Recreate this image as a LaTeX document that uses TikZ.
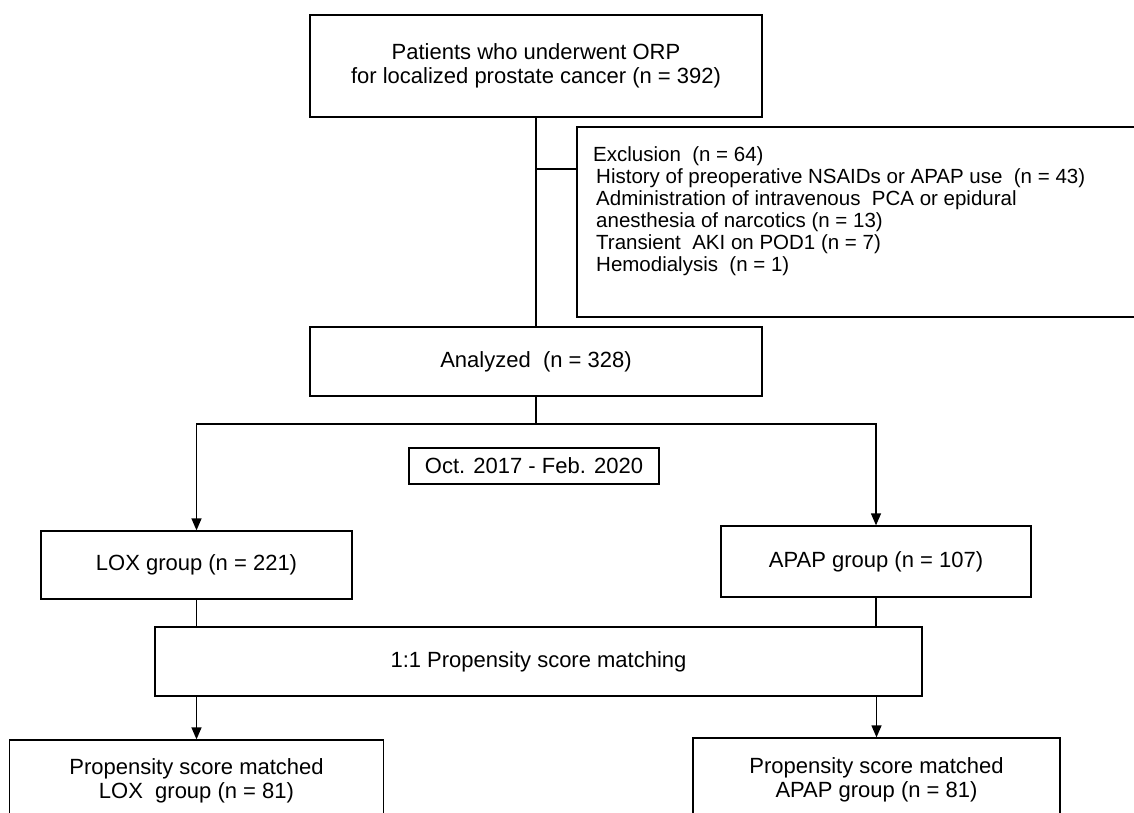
\documentclass[tikz,border=0pt]{standalone}
\usepackage{fontspec}
\setmainfont{Liberation Sans}
\usetikzlibrary{arrows.meta}

\begin{document}
\begin{tikzpicture}[x=1pt,y=-1pt,
  box/.style={draw=black, line width=1.3pt, rectangle, inner sep=0pt, align=center,
              font=\fontsize{22}{24}\selectfont},
  link/.style={draw=black, line width=1.3pt},
  arr/.style={link, -{Triangle[length=12pt,width=10pt]}}]

% page frame; the exclusion box and the two last boxes run past it
\path[use as bounding box, clip] (0,0) rectangle (1134,813);

% boxes
\node[box, minimum width=452pt, minimum height=102pt] (top) at (536,66)
  {Patients who underwent ORP\\for localized prostate cancer (n = 392)};
\node[box, minimum width=573pt, minimum height=190pt] (excl) at (863.5,222) {};
\node[font=\fontsize{20.5}{22}\selectfont, align=left, anchor=north west, inner sep=0pt]
  (excltext) at (593,146)
  {Exclusion\ \ (n = 64)\\
   \hspace{3pt}History of preoperative NSAIDs or APAP use\ \ (n = 43)\\
   \hspace{3pt}Administration of intravenous\ \ PCA or epidural\\
   \hspace{3pt}anesthesia of narcotics (n = 13)\\
   \hspace{3pt}Transient\ \ AKI on POD1 (n = 7)\\
   \hspace{3pt}Hemodialysis\ \ (n = 1)};
\node[box, minimum width=452pt, minimum height=69pt] (analyzed) at (536,361.5)
  {Analyzed\ \ (n = 328)};
\node[box, minimum width=250pt, minimum height=36pt] (period) at (534,466)
  {Oct. 2017 - Feb. 2020};
\node[box, minimum width=311pt, minimum height=68pt] (lox) at (196.5,565)
  {LOX group (n = 221)};
\node[box, minimum width=310pt, minimum height=71pt] (apap) at (876,561.5)
  {APAP group (n = 107)};
\node[box, minimum width=767pt, minimum height=69pt] (psm) at (538.5,661.5)
  {1:1 Propensity score matching};
\node[box, minimum width=374pt, minimum height=82pt] (mlox) at (196.5,781)
  {Propensity score matched\\LOX\ \ group (n = 81)};
\node[box, minimum width=367pt, minimum height=84pt] (mapap) at (876.5,780)
  {Propensity score matched\\APAP group (n = 81)};

% connectors
\coordinate (exclbranch) at (536,169);
\coordinate (split) at (536,424);
\draw[link] (top.south) -- (analyzed.north);
\draw[link] (exclbranch) -- (exclbranch -| excl.west);
\draw[link] (analyzed.south) -- (split);
\draw[arr] (split) -| (lox.north);
\draw[arr] (split) -| (apap.north);
\draw[link] (lox.south) -- (lox.south |- psm.north);
\draw[link] (apap.south) -- (apap.south |- psm.north);
\draw[arr] (mlox.north |- psm.south) -- (mlox.north);
\draw[arr] (mapap.north |- psm.south) -- (mapap.north);
\end{tikzpicture}
\end{document}
